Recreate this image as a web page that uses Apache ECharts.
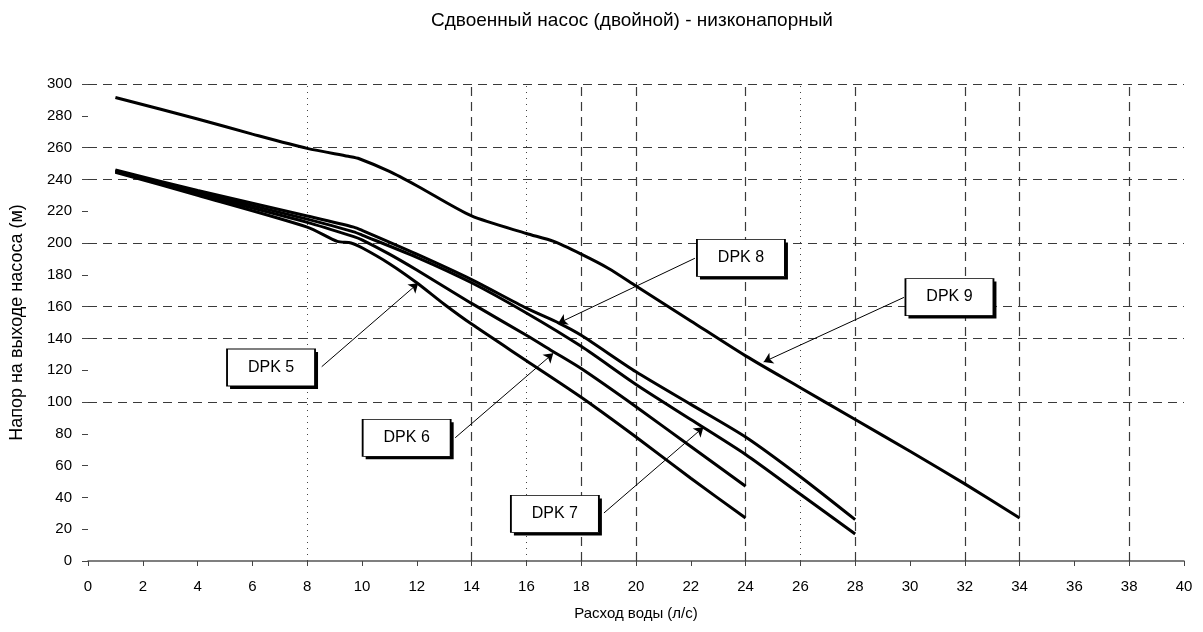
<!DOCTYPE html>
<html>
<head>
<meta charset="utf-8">
<title>Сдвоенный насос</title>
<script src="https://cdn.jsdelivr.net/npm/echarts@6/dist/echarts.min.js"></script>
<style>
  html, body { margin: 0; padding: 0; background: #fff; }
  #chart { width: 1203px; height: 632px; }
</style>
</head>
<body>
<div id="chart"></div>
<script>
// напорные характеристики, [расход л/с, напор м]
const dpk5 = [[1, 244.5], [4, 230], [8, 210], [9.1, 201], [9.6, 200], [10, 197], [11, 187], [12, 175], [13, 161.5], [14, 149], [16, 126], [18, 103], [20, 78], [22, 52], [24, 27]]
const dpk6 = [[1, 245], [4, 231], [8, 213], [9.7, 204], [10, 202], [11, 193], [12, 183], [14, 162], [16, 142], [17, 131.5], [18, 121], [20, 97], [22, 72], [24, 47]]
const dpk7 = [[1, 245.5], [4, 232], [8, 215], [9.7, 207], [10, 205], [12, 191], [14, 175], [16, 156], [18, 135], [20, 111], [22, 89], [24, 67], [26, 42], [28, 17]]
const dpk8 = [[1, 246], [4, 233], [8, 217], [9.7, 210], [10, 208], [12, 193], [14, 177], [16, 159], [17.2, 149.5], [18, 142], [20, 119], [22, 98.5], [24, 78], [26, 53], [28, 26]]
const dpk9 = [[1, 291.5], [4, 278], [6, 268.5], [8, 259.5], [9.5, 254.5], [9.9, 253], [11, 245], [12, 236], [14, 217], [16, 206], [17, 201], [18, 193], [19, 184], [20, 173], [22, 151], [24, 129], [26, 109], [28, 89], [30, 69], [32, 48.5], [34, 27]]

const seriesNames = ['DPK 5', 'DPK 6', 'DPK 7', 'DPK 8', 'DPK 9']
// подписи: центр рамки и стрелка (от рамки к кривой)
const labelPos = [[6.68, 121.7], [11.63, 77.5], [17.04, 29.6], [23.83, 190.6], [31.44, 166]]
const arrowFrom = [[8.53, 122.2], [13.4, 77.5], [18.83, 30.2], [22.15, 190.4], [29.78, 165.8]]
const arrowTo = [[12.05, 174.7], [16.98, 130.6], [22.46, 84.1], [17.16, 149.5], [24.66, 125.2]]

// сетка
const xGridDashed = [14, 18, 20, 24, 28, 32, 34, 38]
const xGridDotted = [8, 16, 26]
const yGridDashed = [300, 260, 240, 200, 160, 140, 100]

const FONT = 'Liberation Sans, Arial, sans-serif'
const NARROW = 'Liberation Sans Narrow, Liberation Sans, Arial, sans-serif'

const chart = echarts.init(document.getElementById('chart'))

const dashStyle = { color: '#3a3a3a', width: 1.2, type: [9, 6] }
const dotStyle = { color: '#444', width: 1, type: [1, 5] }

const gridSeries = {
  type: 'line',
  data: [],
  silent: true,
  markLine: {
    silent: true,
    symbol: 'none',
    label: { show: false },
    data: [
      ...yGridDashed.map((v) => ({ yAxis: v, lineStyle: dashStyle })),
      ...xGridDashed.map((v) => ({ xAxis: v, lineStyle: dashStyle })),
      ...xGridDotted.map((v) => ({ xAxis: v, lineStyle: dotStyle })),
    ],
  },
}

const curves = [dpk5, dpk6, dpk7, dpk8, dpk9].map((d, i) => ({
  name: seriesNames[i],
  type: 'line',
  data: d,
  showSymbol: false,
  smooth: 0.25,
  z: 5,
  lineStyle: { color: '#000', width: 3 },
  markLine: {
    silent: true,
    symbol: ['none', 'arrow'],
    symbolSize: 9,
    label: { show: false },
    lineStyle: { color: '#000', width: 1, type: 'solid' },
    data: [[{ coord: arrowFrom[i] }, { coord: arrowTo[i] }]],
  },
  markPoint: {
    silent: true,
    symbol: 'rect',
    symbolSize: [88, 37],
    data: [
      // тень рамки
      {
        coord: labelPos[i],
        symbolOffset: [3, 3],
        itemStyle: { color: '#000' },
        label: { show: false },
      },
      {
        coord: labelPos[i],
        itemStyle: { color: '#fff', borderColor: '#000', borderWidth: 1.2 },
        label: {
          show: true,
          position: 'inside',
          formatter: seriesNames[i],
          color: '#000',
          fontFamily: NARROW,
          fontSize: 16,
        },
      },
    ],
  },
}))

const option = {
  animation: false,
  title: {
    text: 'Сдвоенный насос (двойной) - низконапорный',
    left: 426,
    top: 6,
    textStyle: { fontFamily: FONT, fontSize: 19, fontWeight: 'normal', color: '#000' },
  },
  grid: { left: 88, right: 19, top: 84, bottom: 71 },
  xAxis: {
    type: 'value',
    min: 0,
    max: 40,
    interval: 2,
    name: 'Расход воды (л/с)',
    nameLocation: 'middle',
    nameGap: 45,
    nameTextStyle: { fontFamily: FONT, fontSize: 15, color: '#000' },
    axisLine: { show: true, onZero: false, lineStyle: { color: '#555', width: 1.5 } },
    axisTick: { show: true, length: 5, lineStyle: { color: '#444' } },
    axisLabel: { margin: 18, fontFamily: FONT, fontSize: 15, color: '#000' },
    splitLine: { show: false },
  },
  yAxis: {
    type: 'value',
    min: 0,
    max: 300,
    interval: 20,
    name: 'Напор на выходе насоса (м)',
    nameLocation: 'middle',
    nameGap: 62,
    nameTextStyle: { fontFamily: FONT, fontSize: 18, color: '#000' },
    axisLine: { show: false },
    axisTick: { show: true, length: 6, lineStyle: { color: '#444' } },
    axisLabel: { margin: 16, fontFamily: FONT, fontSize: 15, color: '#000' },
    splitLine: { show: false },
  },
  series: [gridSeries, ...curves],
}

chart.setOption(option)
</script>
</body>
</html>
